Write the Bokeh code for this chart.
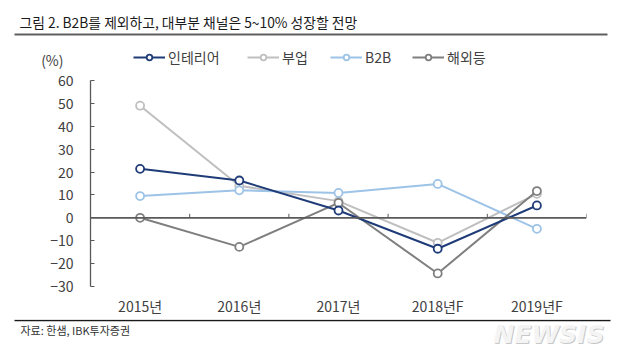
from bokeh.plotting import figure
from bokeh.layouts import column
from bokeh.models import (Label, Span, FixedTicker, Legend, LegendItem, Range1d)
from bokeh.embed import file_html
from bokeh.resources import INLINE

# ---------------- data ----------------
categories = ["2015년", "2016년", "2017년", "2018년F", "2019년F"]
interior = [21.4, 16.3, 3.2, -13.5, 5.4]
side_biz = [49.0, 14.0, 7.3, -10.9, 10.5]
b2b = [9.5, 12.0, 10.9, 14.8, -4.8]
overseas = [0.0, -12.7, 6.5, -24.3, 11.7]
y_ticks = [-30, -20, -10, 0, 10, 20, 30, 40, 50, 60]
title_text = "그림 2. B2B를 제외하고, 대부분 채널은 5~10% 성장할 전망"
source_text = "자료: 한샘, IBK투자증권"
unit_text = "(%)"

W = 640
FONT = "Noto Sans CJK KR"
AX = "#595959"
TXT = "#404040"
xs = [i + 0.5 for i in range(len(categories))]
boundaries = [i + 1 for i in range(len(categories))]

series = [
    ("부업", side_biz, "#BFBFBF"),
    ("B2B", b2b, "#9DC3E6"),
    ("해외등", overseas, "#7F7F7F"),
    ("인테리어", interior, "#1F3C78"),
]

def blank(h, y0, y1):
    f = figure(width=W, height=h, x_range=Range1d(0, W), y_range=Range1d(y1, y0),
               x_axis_type=None, y_axis_type=None, output_backend="svg",
               toolbar_location=None, min_border=0, frame_align=False)
    f.outline_line_color = None
    f.xgrid.visible = False
    f.ygrid.visible = False
    return f

# ---------------- header (title, legend, unit) ----------------
HH = 70
hdr = blank(HH, 0, HH)
hdr.add_layout(Label(x=19, y=21, text=title_text, text_font=FONT,
                     text_font_size="13.8px", text_color="#1a1a1a",
                     text_baseline="middle", text_align="left"))
hdr.segment(x0=[14], y0=[34], x1=[607], y1=[34], line_color="#5f5f5f", line_width=2.2)
hdr.add_layout(Label(x=63, y=59, text=unit_text, text_font=FONT,
                     text_font_size="14px", text_color=TXT,
                     text_baseline="middle", text_align="right"))

legend_x = {"인테리어": 133, "부업": 247, "B2B": 330, "해외등": 412}
for name in ["인테리어", "부업", "B2B", "해외등"]:
    vals, col = [(v, c) for n, v, c in series if n == name][0]
    lr = hdr.line(x=xs, y=vals, line_color=col, line_width=2, visible=False)
    sr = hdr.scatter(x=xs, y=vals, marker="circle", size=8, fill_color="white",
                     line_color=col, line_width=1.8, visible=False)
    lg = Legend(items=[LegendItem(label=name, renderers=[lr, sr])],
                location=(legend_x[name], 3), orientation="horizontal",
                glyph_width=32, glyph_height=14, label_height=14,
                label_standoff=3, padding=0, margin=0, spacing=0,
                border_line_color=None, background_fill_alpha=0,
                inactive_fill_alpha=0,
                label_text_font=FONT, label_text_font_size="14px",
                label_text_color=TXT, label_text_baseline="middle")
    hdr.add_layout(lg, "center")

# ---------------- main chart ----------------
MH = 249
p = figure(width=W, height=MH, x_range=(0, 5), y_range=(-30, 60),
           output_backend="svg", toolbar_location=None, frame_align=False,
           min_border_left=90, min_border_right=54,
           min_border_top=10, min_border_bottom=33)
p.outline_line_color = None
p.xgrid.visible = False
p.ygrid.visible = False

ya = p.yaxis[0]
ya.ticker = FixedTicker(ticks=y_ticks)
ya.major_label_overrides = {t: str(t).replace("-", "−") for t in y_ticks}
ya.major_tick_in = 4
ya.major_tick_out = 0
ya.minor_tick_line_color = None
ya.axis_line_color = AX
ya.axis_line_width = 1.3
ya.major_tick_line_color = AX
ya.major_label_text_font = FONT
ya.major_label_text_font_size = "14px"
ya.major_label_text_color = TXT
ya.major_label_standoff = 17

xa = p.xaxis[0]
xa.ticker = FixedTicker(ticks=xs)
xa.major_label_overrides = {x: c for x, c in zip(xs, categories)}
xa.axis_line_color = None
xa.major_tick_line_color = None
xa.minor_tick_line_color = None
xa.major_label_text_font = FONT
xa.major_label_text_font_size = "14px"
xa.major_label_text_color = TXT
xa.major_label_standoff = 3

p.add_layout(Span(location=0, dimension="width", line_color=AX, line_width=1.8))
p.segment(x0=boundaries, y0=[0] * len(boundaries), x1=boundaries,
          y1=[1.75] * len(boundaries), line_color=AX, line_width=1)

for name, vals, col in series:
    p.line(xs, vals, line_color=col, line_width=2)
    p.scatter(xs, vals, marker="circle", size=8, fill_color="white",
              line_color=col, line_width=1.8)

# ---------------- footer (rule, source, watermark) ----------------
FT, FB = HH + MH, 351
ftr = blank(FB - FT, FT, FB)
ftr.segment(x0=[14], y0=[FT + 1], x1=[610], y1=[FT + 1], line_color="#1a1a1a", line_width=1.5)
ftr.add_layout(Label(x=20, y=329, text=source_text, text_font=FONT,
                     text_font_size="11px", text_color="#333333",
                     text_baseline="middle", text_align="left"))
ftr.add_layout(Label(x=494, y=335, text="NEWSIS", text_font="DejaVu Sans",
                     text_font_size="25px", text_font_style="bold italic",
                     text_color="#c8c8c8", text_baseline="middle", text_align="left"))
ftr.add_layout(Label(x=493, y=334, text="NEWSIS", text_font="DejaVu Sans",
                     text_font_size="25px", text_font_style="bold italic",
                     text_color="#f4f4f4", text_baseline="middle", text_align="left"))

layout = column(hdr, p, ftr, spacing=0)
open("out.html", "w").write(file_html(layout, INLINE))
